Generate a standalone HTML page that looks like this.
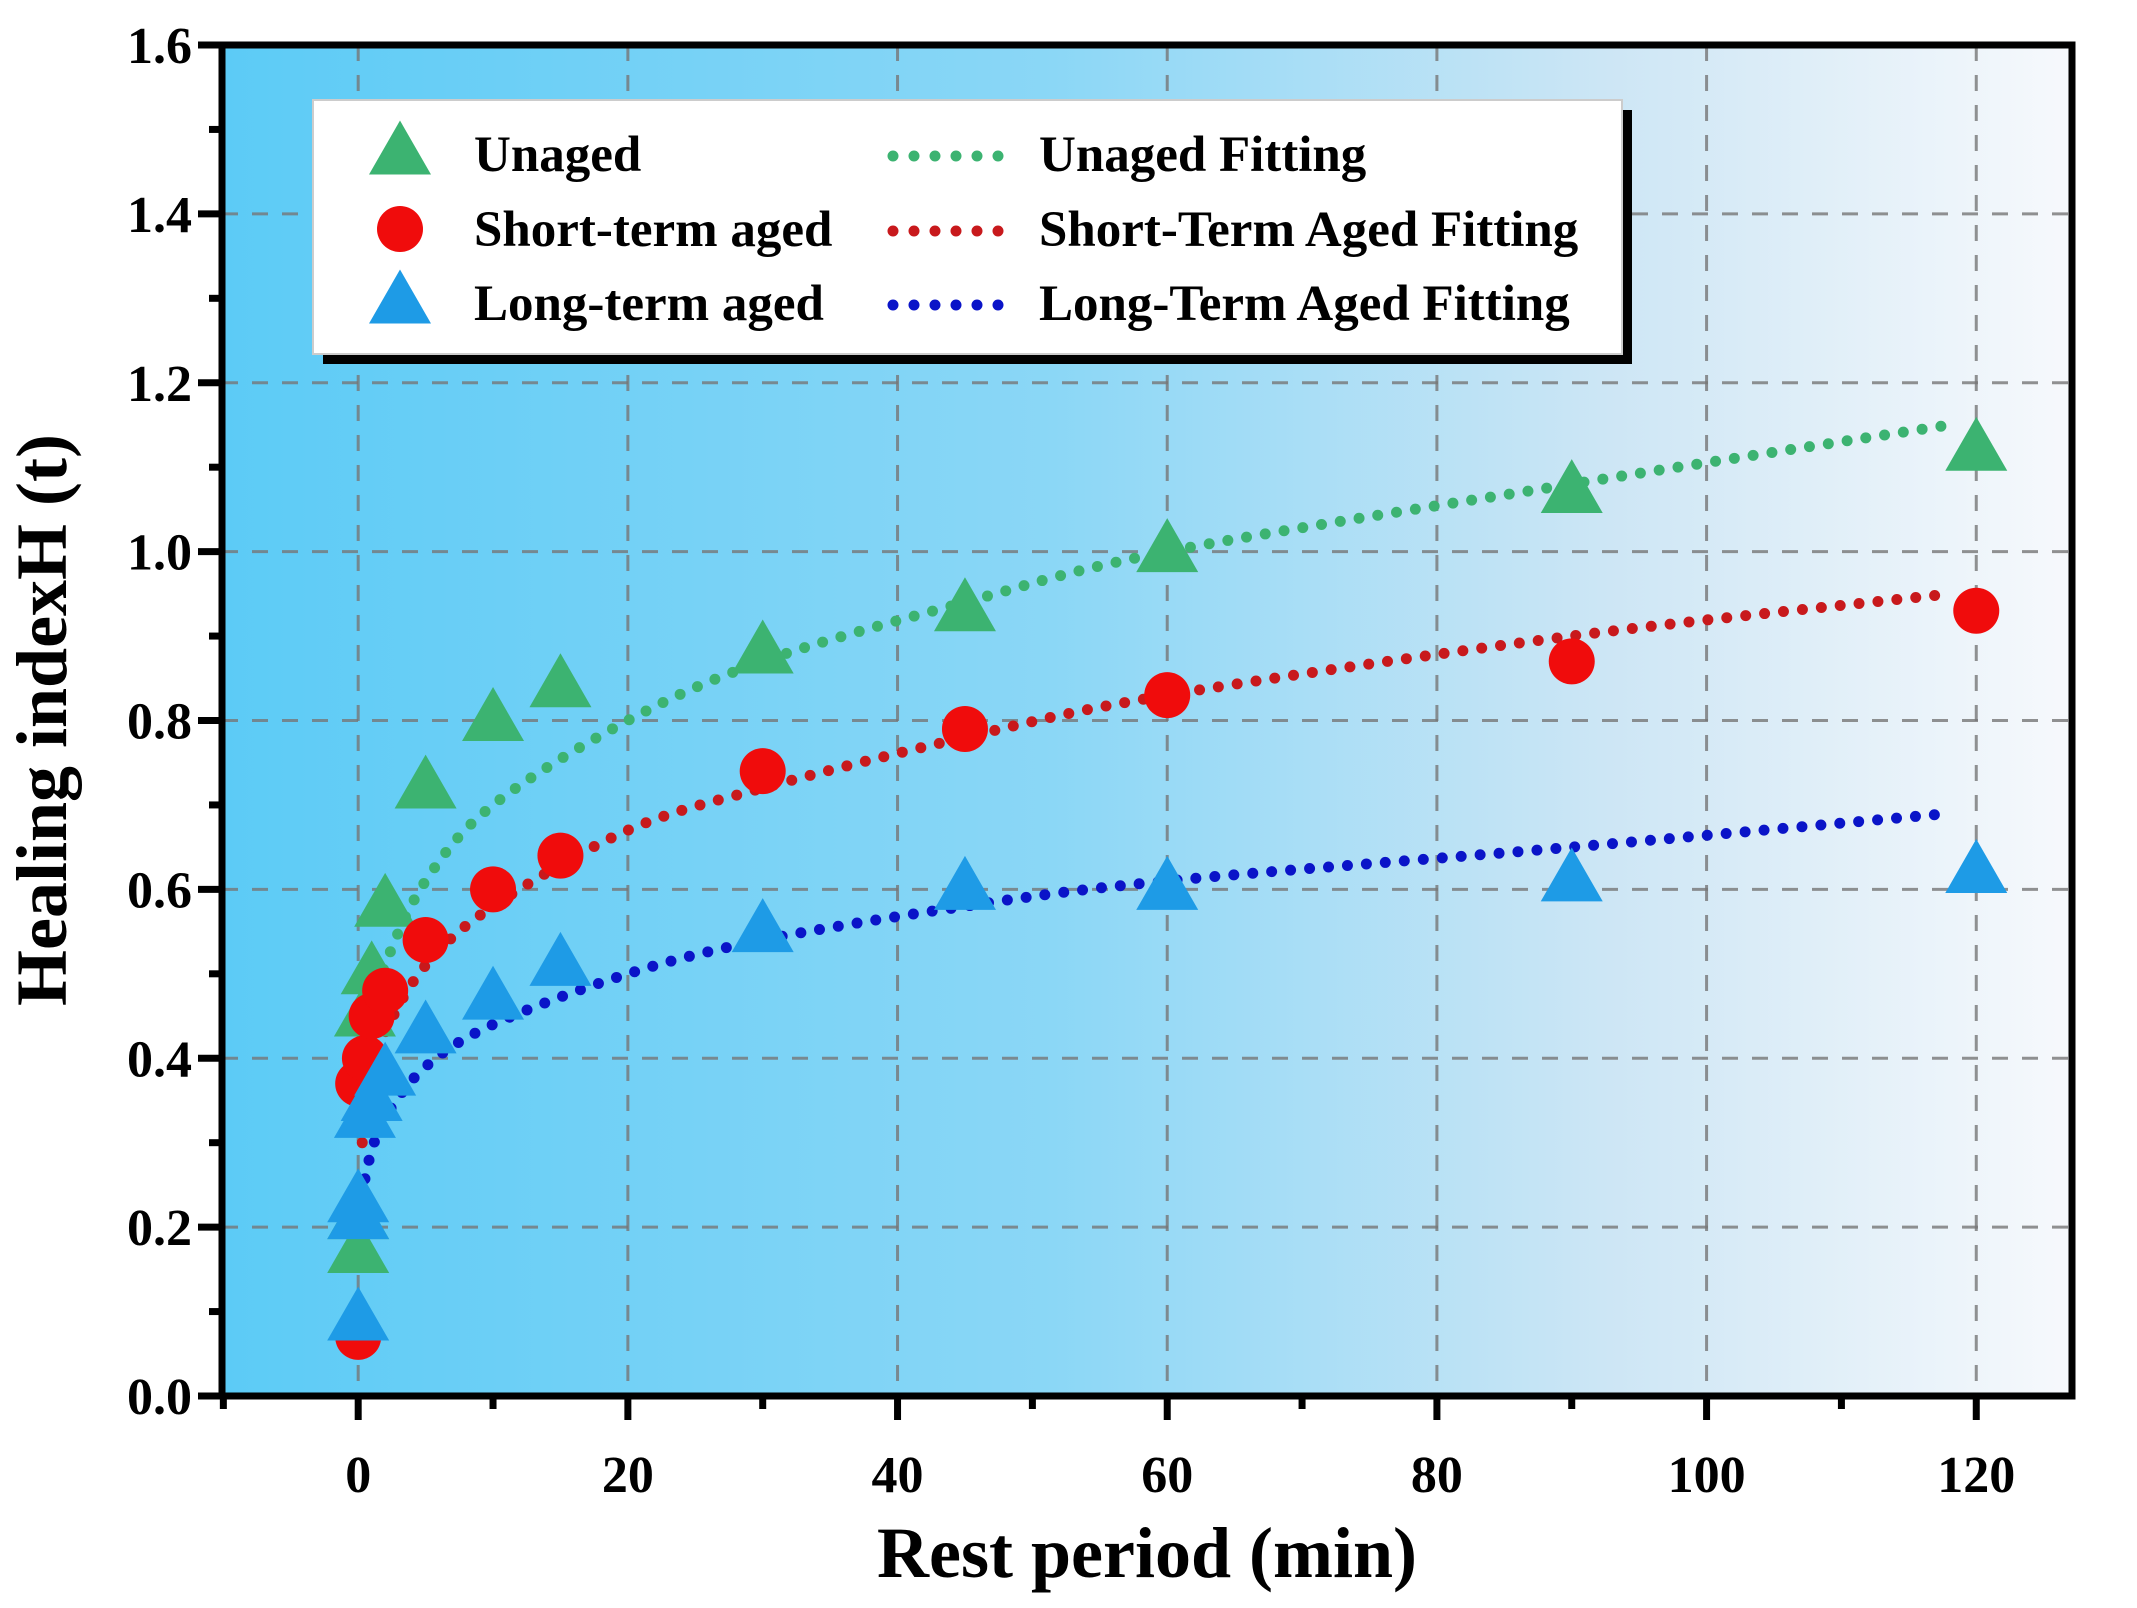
<!DOCTYPE html>
<html><head><meta charset="utf-8">
<style>
html,body{margin:0;padding:0;background:#fff;}
svg{display:block;font-family:"Liberation Serif",serif;font-weight:bold;}
</style></head>
<body>
<svg id="chart" width="2137" height="1608" viewBox="0 0 2137 1608">
<defs>
<linearGradient id="bg" x1="0" y1="0" x2="1" y2="0">
<stop offset="0" stop-color="#5ccbf6"/>
<stop offset="0.45" stop-color="#8bd7f6"/>
<stop offset="0.75" stop-color="#cde6f5"/>
<stop offset="1" stop-color="#f7f9fc"/>
</linearGradient>
</defs>
<rect x="222" y="45" width="1850" height="1351" fill="url(#bg)"/>
<g id="grid"></g>
<g id="fits"></g>
<g id="marks"></g>
<g id="axes"></g>
<g id="legend">
<rect x="323" y="110" width="1309" height="254" fill="#000"/>
<rect x="313" y="100" width="1309" height="254" fill="#fff" stroke="#ccc" stroke-width="2"/>
</g>
<text x="1147" y="1577" font-size="72" text-anchor="middle">Rest period (min)</text>
<text transform="translate(66,720) rotate(-90)" font-size="72" text-anchor="middle">Healing indexH (t)</text>
</svg>
<script>
const unagedT=[0,0,0.5,1,2,5,10,15,30,45,60,90,120];
const unagedH=[0.17,0.21,0.45,0.50,0.58,0.72,0.80,0.84,0.88,0.93,1.00,1.07,1.12];
const shortT=[0,0,0.5,1,2,5,10,15,30,45,60,90,120];
const shortH=[0.07,0.37,0.40,0.45,0.48,0.54,0.60,0.64,0.74,0.79,0.83,0.87,0.93];
const longT=[0,0,0,0.5,1,2,5,10,15,30,45,60,90,120];
const longH=[0.09,0.21,0.23,0.33,0.35,0.38,0.43,0.47,0.51,0.55,0.60,0.60,0.61,0.62];
const fitT=[0.3,0.5,1,2,5,10,20,30,45,60,90,118];
const unagedFit=[0.35,0.38,0.44,0.51,0.61,0.70,0.80,0.87,0.94,1.00,1.08,1.15];
const shortFit=[0.30,0.33,0.37,0.43,0.51,0.58,0.67,0.72,0.78,0.83,0.90,0.95];
const longFit=[0.235,0.257,0.29,0.33,0.39,0.44,0.50,0.54,0.58,0.61,0.65,0.69];
const xTicks=[0,20,40,60,80,100,120];
const yTicks=[0.0,0.2,0.4,0.6,0.8,1.0,1.2,1.4,1.6];
const xMin=-10.1,xMax=127.1,yMin=0,yMax=1.6;
const L=222,R=2072,T=45,B=1396;
const NS="http://www.w3.org/2000/svg";
function X(v){return L+(v-xMin)/(xMax-xMin)*(R-L);}
function Y(v){return B-(v-yMin)/(yMax-yMin)*(B-T);}
function mk(tag,attrs,parent){const e=document.createElementNS(NS,tag);for(const k in attrs)e.setAttribute(k,attrs[k]);parent.appendChild(e);return e;}
const grid=document.getElementById('grid'),axes=document.getElementById('axes'),marks=document.getElementById('marks'),fits=document.getElementById('fits'),legend=document.getElementById('legend');
xTicks.forEach(v=>{const l=mk('line',{x1:X(v),x2:X(v),y1:T,y2:B,stroke:'#777','stroke-width':3,'stroke-dasharray':'16 14',opacity:0.8},grid);

});
yTicks.slice(1,-1).forEach(v=>{const l=mk('line',{x1:L,x2:R,y1:Y(v),y2:Y(v),stroke:'#777','stroke-width':3,'stroke-dasharray':'16 14',opacity:0.8},grid);

});
function fitPath(ts,hs,color,name,g){let d='';const pts=ts.map((t,i)=>[X(t),Y(hs[i])]);
d='M'+pts[0][0]+','+pts[0][1];
for(let i=0;i<pts.length-1;i++){const p0=pts[i-1]||pts[i],p1=pts[i],p2=pts[i+1],p3=pts[i+2]||p2;
const c1=[p1[0]+(p2[0]-p0[0])/6,p1[1]+(p2[1]-p0[1])/6],c2=[p2[0]-(p3[0]-p1[0])/6,p2[1]-(p3[1]-p1[1])/6];
d+=' C'+c1+' '+c2+' '+p2;}
const p=mk('path',{d:d,fill:'none',stroke:color,'stroke-width':11,'stroke-linecap':'round','stroke-dasharray':'0 19'},g);

}
function tri(cx,cy,s,color,name,g){const h=s*0.87;const p=mk('polygon',{points:`${cx},${cy-h*0.62} ${cx-s/2},${cy+h*0.38} ${cx+s/2},${cy+h*0.38}`,fill:color},g);

}
function circ(cx,cy,r,color,name,g){const c=mk('circle',{cx:cx,cy:cy,r:r,fill:color},g);

}
unagedT.forEach((t,i)=>tri(X(t),Y(unagedH[i]),62,'#3cb371','unaged-point',marks));
shortT.forEach((t,i)=>circ(X(t),Y(shortH[i]),23,'#f00c0c','short-term-point',marks));
longT.forEach((t,i)=>tri(X(t),Y(longH[i]),62,'#1e9be6','long-term-point',marks));
fitPath(fitT,unagedFit,'#3cb371','unaged-fit-line',fits);
fitPath(fitT,shortFit,'#c8191c','short-term-fit-line',fits);
fitPath(fitT,longFit,'#0a14c8','long-term-fit-line',fits);
const fr=mk('rect',{x:L,y:T,width:R-L,height:B-T,fill:'none',stroke:'#000','stroke-width':7},axes);


xTicks.forEach(v=>{const l=mk('line',{x1:X(v),x2:X(v),y1:B,y2:B+24,stroke:'#000','stroke-width':7},axes);


const t=mk('text',{x:X(v),y:B+96,'font-size':52,'text-anchor':'middle'},axes);t.textContent=v;

});
for(let v=-10;v<=127;v+=10){if(v%20===0)continue;const l=mk('line',{x1:X(v),x2:X(v),y1:B,y2:B+13,stroke:'#000','stroke-width':7},axes);

}
yTicks.forEach(v=>{const l=mk('line',{x1:L-24,x2:L,y1:Y(v),y2:Y(v),stroke:'#000','stroke-width':7},axes);


const t=mk('text',{x:L-30,y:Y(v)+18,'font-size':52,'text-anchor':'end'},axes);t.textContent=v.toFixed(1);


if(v<1.6){const m=mk('line',{x1:L-13,x2:L,y1:Y(v+0.1),y2:Y(v+0.1),stroke:'#000','stroke-width':7},axes);

}});
const rows=[154,229,303];
tri(400,rows[0],62,'#3cb371','legend-unaged-marker',legend);
circ(400,rows[1],23,'#f00c0c','legend-short-term-marker',legend);
tri(400,rows[2],62,'#1e9be6','legend-long-term-marker',legend);
const lt=['Unaged','Short-term aged','Long-term aged'];
lt.forEach((s,i)=>{const t=mk('text',{x:474,y:rows[i]+17,'font-size':51},legend);t.textContent=s;

});
const fc=['#3cb371','#c8191c','#0a14c8'],ft=['Unaged Fitting','Short-Term Aged Fitting','Long-Term Aged Fitting'];
fc.forEach((c,i)=>{const l=mk('line',{x1:893,x2:1000,y1:rows[i]+2,y2:rows[i]+2,stroke:c,'stroke-width':11,'stroke-linecap':'round','stroke-dasharray':'0 21'},legend);


const t=mk('text',{x:1039,y:rows[i]+17,'font-size':51},legend);t.textContent=ft[i];

});
</script>
</body></html>
